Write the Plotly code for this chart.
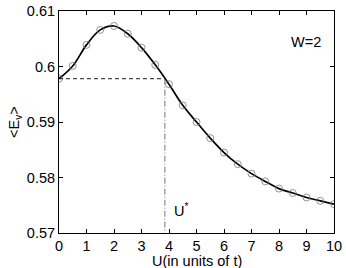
import plotly.graph_objects as go

U = [0, 0.5, 1, 1.5, 2, 2.5, 3, 3.5, 4, 4.5, 5, 5.5, 6, 6.5, 7, 7.5, 8, 8.5, 9, 9.5, 10]
E = [0.5978, 0.6001, 0.6039, 0.6066, 0.6073, 0.6059, 0.6034, 0.6003, 0.5968, 0.5930,
     0.5900, 0.5871, 0.5845, 0.5824, 0.5807, 0.5793, 0.5780, 0.5772, 0.5764, 0.5758, 0.5752]
U_star = 3.85
E_ref = 0.5978
x_ticks = [0, 1, 2, 3, 4, 5, 6, 7, 8, 9, 10]
y_ticks = [0.57, 0.58, 0.59, 0.60, 0.61]
y_labels = ["0.57", "0.58", "0.59", "0.6", "0.61"]

font = "Liberation Sans, Arial, sans-serif"
fs = 14.5
fig = go.Figure()
fig.add_trace(go.Scatter(x=U, y=E, mode="lines", line=dict(color="black", width=1.7, shape="spline", smoothing=1.0),
                         showlegend=False, hoverinfo="skip"))
fig.add_trace(go.Scatter(x=U, y=E, mode="markers",
                         marker=dict(symbol="circle-open", size=7, color="#777777", line=dict(width=0.8)),
                         showlegend=False))
fig.add_trace(go.Scatter(x=[0, U_star], y=[E_ref, E_ref], mode="lines",
                         line=dict(color="black", width=0.9, dash="4px,3px"), showlegend=False))
fig.add_trace(go.Scatter(x=[U_star, U_star], y=[E_ref, 0.57], mode="lines",
                         line=dict(color="#666666", width=0.9, dash="6px,2px,1px,2px"), showlegend=False))

fig.add_annotation(x=8.98, y=0.6045, text="W=2", showarrow=False, font=dict(family=font, size=fs, color="black"))
fig.add_annotation(x=4.12, y=0.5722, text="U<sup>*</sup>", showarrow=False, xanchor="left", yanchor="bottom",
                   font=dict(family=font, size=fs, color="black"))
fig.add_annotation(x=0.5, y=0, xref="paper", yref="paper", text="U(in units of t)", showarrow=False,
                   xanchor="center", yanchor="middle", yshift=-27.5, font=dict(family=font, size=fs, color="black"))
fig.add_annotation(x=0, y=0.5, xref="paper", yref="paper", text="&lt;E<sub>v</sub>&gt;", showarrow=False,
                   textangle=-90, xanchor="center", yanchor="middle", xshift=-44,
                   font=dict(family=font, size=fs, color="black"))

fig.update_xaxes(range=[0, 10], tickvals=x_ticks, ticks="inside", ticklen=4, tickcolor="black",
                 showline=True, linecolor="black", linewidth=1, mirror="ticks", showgrid=False, zeroline=False,
                 tickfont=dict(family=font, size=fs, color="black"), automargin=False)
fig.update_yaxes(range=[0.57, 0.61], tickvals=y_ticks, ticktext=y_labels, ticks="inside", ticklen=4, tickcolor="black",
                 showline=True, linecolor="black", linewidth=1, mirror="ticks", showgrid=False, zeroline=False,
                 tickfont=dict(family=font, size=fs, color="black"), automargin=False)
fig.update_layout(width=346, height=268, margin=dict(l=59, r=12, t=11, b=35),
                  plot_bgcolor="white", paper_bgcolor="white")
fig.write_html("out.html", config={"displayModeBar": False},
               post_script="document.body.style.margin='0px';document.body.style.overflow='hidden';")
